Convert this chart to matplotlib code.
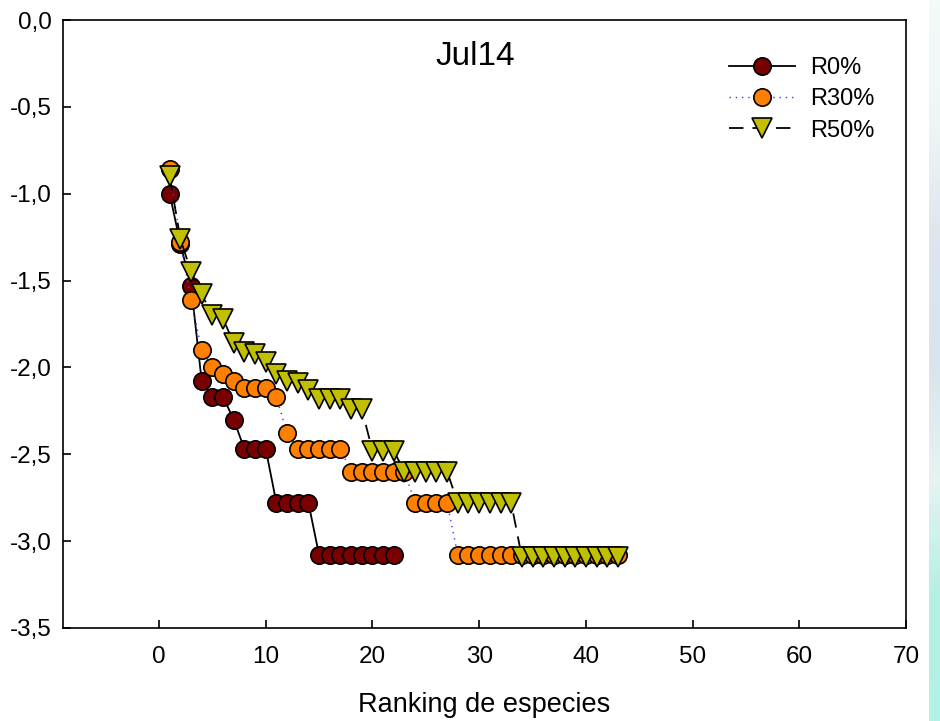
import numpy as np
import matplotlib
matplotlib.use('Agg')
import matplotlib.pyplot as plt
from matplotlib.ticker import FuncFormatter
from matplotlib.colors import LinearSegmentedColormap

plt.rcParams['font.family'] = ['Liberation Sans', 'DejaVu Sans']
plt.rcParams['axes.unicode_minus'] = False

# ranking de especies
rank_r0 = [1, 2, 3, 4, 5, 6, 7, 8, 9, 10, 11, 12, 13, 14, 15, 16, 17, 18, 19, 20, 21, 22]
rank_r30 = list(range(1, 44))
rank_r50 = list(range(1, 44))

# log abundancia relativa
r0 = [-1.00, -1.29, -1.53, -2.08, -2.17, -2.17, -2.30, -2.47, -2.47, -2.47,
      -2.78, -2.78, -2.78, -2.78, -3.08, -3.08, -3.08, -3.08, -3.08, -3.08,
      -3.08, -3.08]
r30 = [-0.86, -1.28, -1.61, -1.90, -2.00, -2.04, -2.08, -2.12, -2.12, -2.12,
       -2.17, -2.38, -2.47, -2.47, -2.47, -2.47, -2.47, -2.60, -2.60, -2.60,
       -2.60, -2.60, -2.60, -2.78, -2.78, -2.78, -2.78, -3.08, -3.08, -3.08,
       -3.08, -3.08, -3.08, -3.08, -3.08, -3.08, -3.08, -3.08, -3.08, -3.08,
       -3.08, -3.08, -3.08]
r50 = [-0.90, -1.26, -1.45, -1.58, -1.70, -1.72, -1.86, -1.91, -1.92, -1.97,
       -2.04, -2.08, -2.09, -2.13, -2.18, -2.18, -2.18, -2.24, -2.24, -2.48,
       -2.48, -2.48, -2.60, -2.60, -2.60, -2.60, -2.60, -2.78, -2.78, -2.78,
       -2.78, -2.78, -2.78, -3.09, -3.09, -3.09, -3.09, -3.09, -3.09, -3.09,
       -3.09, -3.09, -3.09]

etiquetas = ['R0%', 'R30%', 'R50%']
titulo = 'Jul14'

fig = plt.figure(figsize=(9.4, 7.21), dpi=100)

# franja de fondo a la derecha (captura)
fondo = fig.add_axes([929 / 940, 0, 11 / 940, 1])
cmap_fondo = LinearSegmentedColormap.from_list(
    'fondo', ['#f3fbf9', '#eef5f6', '#dde6ee', '#d8e4ec', '#e6f3f2', '#b4efe4', '#b2f2e6'])
fondo.imshow(np.linspace(0, 1, 100).reshape(-1, 1), aspect='auto', cmap=cmap_fondo)
fondo.axis('off')

ax = fig.add_axes([63 / 940, 1 - 628 / 721, 843 / 940, 608 / 721])

ax.plot(rank_r0, r0, color='black', lw=1.3, marker='o', ms=12.5,
        mfc='#780000', mec='black', mew=1.2, label=etiquetas[0], zorder=3)
ax.plot(rank_r30, r30, color='#3a3aff', lw=1.0, ls=(0, (1, 3.5)), marker='o', ms=12.5,
        mfc='#ff8000', mec='black', mew=1.2, label=etiquetas[1], zorder=4)
ax.plot(rank_r50, r50, color='black', lw=1.3, ls=(0, (8, 5)), marker='v', ms=14.5,
        mfc='#c0c000', mec='black', mew=1.2, label=etiquetas[2], zorder=5)

ax.set_xlim(-9, 70)
ax.set_ylim(-3.5, 0)
ax.set_xticks(range(0, 71, 10))
ax.set_yticks(np.arange(-3.5, 0.01, 0.5))
ax.yaxis.set_major_formatter(FuncFormatter(lambda v, p: f"{v:.1f}".replace('.', ',').replace('-0,0', '0,0')))

ax.tick_params(direction='in', length=6, width=1.2, labelsize=17.5)
ax.tick_params(axis='y', pad=8)
ax.tick_params(axis='x', pad=13)
ax.tick_params(top=False, right=False)
for s in ax.spines.values():
    s.set_linewidth(1.2)

ax.set_xlabel('Ranking de especies', fontsize=19.5, labelpad=17)
ax.text(0.489, 0.94, titulo, transform=ax.transAxes, ha='center', va='center', fontsize=24)

ax.legend(loc='upper left', bbox_to_anchor=(0.779, 0.955), frameon=False, fontsize=17,
          handlelength=2.8, handletextpad=0.65, labelspacing=0.4, borderaxespad=0)

fig.savefig('out.png', dpi=100)
